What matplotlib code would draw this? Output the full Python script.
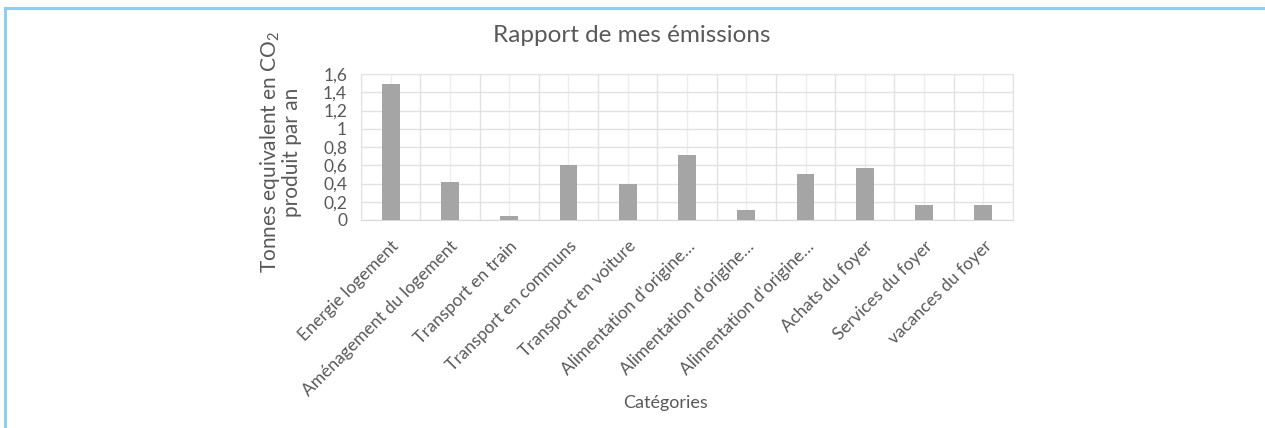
import numpy as np
import matplotlib.pyplot as plt
from matplotlib.lines import Line2D
from matplotlib.ticker import FuncFormatter, MultipleLocator

categories = ["Energie logement", "Aménagement du logement", "Transport en train",
              "Transport en communs", "Transport en voiture", "Alimentation d'origine…",
              "Alimentation d'origine…", "Alimentation d'origine…", "Achats du foyer",
              "Services du foyer", "vacances du foyer"]
emissions = [1.49, 0.42, 0.04, 0.60, 0.39, 0.71, 0.11, 0.50, 0.57, 0.16, 0.16]

title = "Rapport de mes émissions"
y_label = "Tonnes equivalent en CO$_2$\nproduit par an"
x_label = "Catégories"

plt.rcParams['font.family'] = ['Lato', 'DejaVu Sans']
plt.rcParams['mathtext.default'] = 'regular'
text_col = '#595959'

W, H = 1265, 428
fig = plt.figure(figsize=(W / 100, H / 100), dpi=100)
ax = fig.add_axes([361 / W, (H - 220) / H, (1013 - 361) / W, 146 / H])

x = np.arange(len(categories))
ax.bar(x, emissions, width=0.3, color='#a5a5a5', zorder=3)

ax.set_xlim(-0.5, len(categories) - 0.5)
ax.set_ylim(0, 1.6)
ax.yaxis.set_major_locator(MultipleLocator(0.2))
ax.yaxis.set_major_formatter(FuncFormatter(lambda v, p: f"{v:.1f}".replace('.', ',').replace(',0', '')))

# grid: horizontal lines, vertical lines at boundaries and centres
ax.set_xticks(x)
ax.set_xticks(np.arange(-0.5, len(categories)), minor=True)
ax.grid(True, axis='y', color='#e2e2e2', lw=1, zorder=0)
ax.grid(True, axis='x', which='minor', color='#e2e2e2', lw=1, zorder=0)
ax.grid(True, axis='x', which='major', color='#eeeeee', lw=1, zorder=0)

for s in ax.spines.values():
    s.set_color('#e2e2e2')
ax.spines['bottom'].set_color('#d9d9d9')
ax.tick_params(which='both', length=0, colors=text_col)
ax.tick_params(axis='y', labelsize=12.5, pad=10)
ax.set_xticklabels(categories, rotation=45, ha='right', rotation_mode='anchor', fontsize=12.5)
ax.tick_params(axis='x', pad=13)

fig.text(632 / W, 1 - 36 / H, title, ha='center', va='center', fontsize=17.5, color=text_col)
fig.text(280 / W, 1 - 152 / H, y_label, rotation=90, ha='center', va='center',
         multialignment='center', fontsize=15, color=text_col, linespacing=1.0)
fig.text(665 / W, 1 - 403 / H, x_label, ha='center', va='center', fontsize=13, color=text_col)

# light blue frame
fig.add_artist(Line2D([4.5 / W, 4.5 / W], [0, 1 - 8 / H], transform=fig.transFigure, color='#8ecff0', lw=2.2))
fig.add_artist(Line2D([4.5 / W, 1], [1 - 8 / H, 1 - 8 / H], transform=fig.transFigure, color='#8ecff0', lw=2.2))

fig.savefig('out.png', dpi=100)
